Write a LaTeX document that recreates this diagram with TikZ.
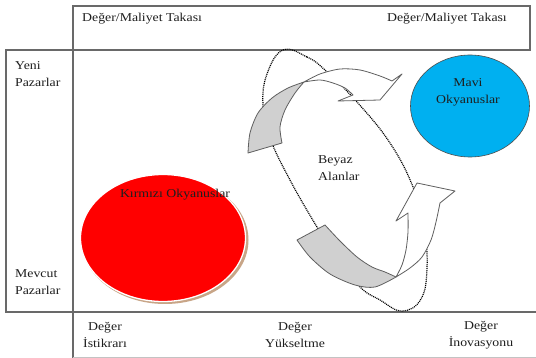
\documentclass[tikz,border=0pt]{standalone}
\usepackage{fontspec}
\setmainfont{Liberation Serif}[FakeStretch=1.15]
\usetikzlibrary{shapes.geometric}
\definecolor{framec}{RGB}{105,105,105}
\definecolor{txt}{RGB}{30,30,30}
\definecolor{oceanred}{RGB}{255,0,0}
\definecolor{oceanblue}{RGB}{0,176,240}
\definecolor{ribbon}{RGB}{208,208,208}
\definecolor{ribbonline}{RGB}{95,95,95}
\definecolor{shadowc}{RGB}{200,165,135}
\begin{document}
\begin{tikzpicture}[x=1pt,y=-1pt,
  frame/.style={draw=framec,line width=1.1pt},
  lbl/.style={inner sep=0pt,text=txt,font=\fontsize{12}{17}\selectfont},
  rib/.style={draw=ribbonline,line width=0.8pt,line join=round},
  dots/.style={draw=black,line width=1.2pt,dash pattern=on 1pt off 0.9pt}]
\useasboundingbox (0,0) rectangle (536,358);
\fill[white] (0,0) rectangle (536,358);
% frames
\draw[frame] (73,6) rectangle (530,50);
\draw[frame] (6,50) rectangle (73,312);
\draw[frame] (73,312) -- (536,312);
\draw[frame] (73,312) -- (73,358);
\draw[draw=framec!40,line width=0.8pt] (73,357) -- (536,357);
% oceans
\node (redsh) [ellipse, fill=shadowc, minimum width=167pt, minimum height=128pt, inner sep=0pt] at (165,240) {};
\node (red) [ellipse, fill=oceanred, draw=white, line width=1.3pt, minimum width=165pt, minimum height=127pt, inner sep=0pt] at (163,238) {};
\node (blue) [ellipse, fill=oceanblue, draw=black!70, line width=0.6pt, minimum width=119pt, minimum height=102pt, inner sep=0pt] at (470,106) {};
% dotted orbit
\draw[dots] plot[smooth cycle, tension=0.7] coordinates {(283,50) (307,57) (325,70) (357,102) (390,143) (413,187) (424,228) (427,268) (421,299) (402,311) (380,300) (360,287) (337,258) (317,227) (290,180) (270,138) (263,105) (267,74)};
% upper arrow
\draw[rib,fill=ribbon] (248,153) -- plot[smooth] coordinates {(248,153) (250,133) (258,113) (272,98) (288,88) (304,82)} -- plot[smooth] coordinates {(304,82) (295,93) (285,110) (280,127) (282,143)} -- cycle;
\draw[rib,fill=white] (304,82) -- plot[smooth] coordinates {(304,82) (320,74) (340,69) (360,70) (380,76) (392,81)} -- (402,74) -- (380,100) -- (338,101) -- (353,95) -- plot[smooth] coordinates {(353,95) (345,88) (333,83) (320,80) (304,82)} -- cycle;
% lower arrow
\draw[rib,fill=ribbon] (297,240) -- plot[smooth] coordinates {(297,240) (310,257) (330,274) (355,285) (375,287) (396,277)} -- plot[smooth] coordinates {(396,277) (385,272) (372,267) (357,257) (340,241) (325,225)} -- cycle;
\draw[rib,fill=white] (396,277) -- plot[smooth] coordinates {(396,277) (410,268) (422,257) (431,240) (436,222) (440,203)} -- (455,191) -- (417,183) -- (396,221) -- (408,213) -- plot[smooth] coordinates {(408,213) (408,232) (406,250) (402,265) (396,277)} -- cycle;
% labels
\node[lbl, anchor=west] (dm1) at (82,19) {Değer/Maliyet Takası};
\node[lbl, anchor=east] (dm2) at (507,19) {Değer/Maliyet Takası};
\node[lbl, anchor=west, align=left] (yeni) at (15,74) {Yeni\\Pazarlar};
\node[lbl, anchor=west, align=left] (mevcut) at (15,282) {Mevcut\\Pazarlar};
\node[lbl, align=center] (istikrar) at (105,335) {Değer\\İstikrarı};
\node[lbl, align=center] (yuksel) at (295,335) {Değer\\Yükseltme};
\node[lbl, align=center] (inov) at (481,335) {Değer\\İnovasyonu};
\node[lbl] (kirmizi) at (175,195) {Kırmızı Okyanuslar};
\node[lbl, align=center] (mavi) at (468,92) {Mavi\\Okyanuslar};
\node[lbl, align=left, anchor=west] (beyaz) at (318,168) {Beyaz\\Alanlar};
\end{tikzpicture}
\end{document}
